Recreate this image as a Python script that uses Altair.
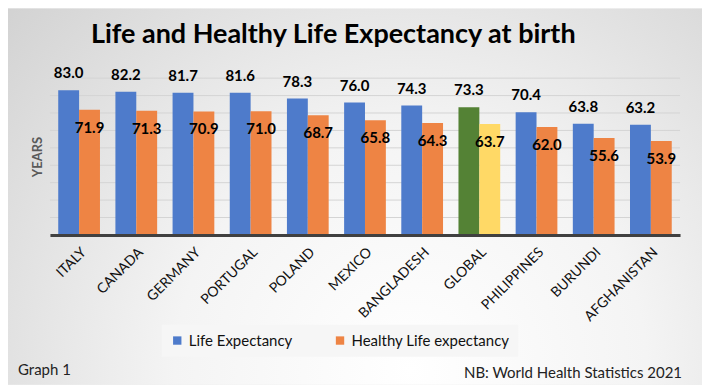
import altair as alt
import pandas as pd

countries = ["ITALY", "CANADA", "GERMANY", "PORTUGAL", "POLAND", "MEXICO",
             "BANGLADESH", "GLOBAL", "PHILIPPINES", "BURUNDI", "AFGHANISTAN"]
life = [83.0, 82.2, 81.7, 81.6, 78.3, 76.0, 74.3, 73.3, 70.4, 63.8, 63.2]
healthy = [71.9, 71.3, 70.9, 71.0, 68.7, 65.8, 64.3, 63.7, 62.0, 55.6, 53.9]
series_names = ["Life Expectancy", "Healthy Life expectancy"]
gridlines = [10, 20, 30, 40, 50, 60, 70, 80, 90]
title_text = ["Life and Healthy Life Expectancy at birth"]
notes_left = ["Graph 1"]
notes_right = ["NB: World Health Statistics 2021"]

rows = []
for c, le, hle in zip(countries, life, healthy):
    g = c == "GLOBAL"
    rows.append({"country": c, "series": "LE", "value": le,
                 "colorkey": "Global LE" if g else series_names[0]})
    rows.append({"country": c, "series": "HLE", "value": hle,
                 "colorkey": "Global HLE" if g else series_names[1]})
df = pd.DataFrame(rows)

FONT = "Lato"
W, H = 631, 157
PL, PT, PR, PB = 42, 70, 22, 150

y_axis = alt.Axis(title="YEARS", labels=False, ticks=False, domain=False, grid=False,
                  titleFont=FONT, titleFontSize=13, titleFontWeight="bold",
                  titleColor="#595959", titlePadding=5, zindex=1)
y_scale = alt.Scale(domain=[0, 90], nice=False)

bg = alt.Chart(pd.DataFrame({"a": [0]})).mark_rect(
    fill={"gradient": "radial", "x1": 0.58, "y1": 0.75, "r1": 0,
          "x2": 0.58, "y2": 0.75, "r2": 0.85,
          "stops": [{"offset": 0, "color": "#ffffff"},
                    {"offset": 0.4, "color": "#f4f4f4"},
                    {"offset": 1, "color": "#cdcdcd"}]}
).encode(x=alt.value(-PL), x2=alt.value(W + PR), y=alt.value(-PT), y2=alt.value(H + PB))

grid = alt.Chart(pd.DataFrame({"value": gridlines})).mark_rule(
    color="#d4d4d4", strokeWidth=1
).encode(y=alt.Y("value:Q", scale=y_scale, axis=y_axis))

base = alt.Chart(df).encode(
    x=alt.X("country:N", sort=countries,
            scale=alt.Scale(paddingInner=0.27, paddingOuter=0.145),
            axis=alt.Axis(title=None, labelAngle=-45, ticks=False, labelPadding=10,
                          domainColor="#404040", domainWidth=3, labelFont=FONT,
                          labelFontSize=14, labelColor="#111111", grid=False, zindex=1)),
    xOffset=alt.XOffset("series:N", sort=["LE", "HLE"],
                        scale=alt.Scale(paddingInner=0, paddingOuter=0)),
    y=alt.Y("value:Q", scale=y_scale, axis=y_axis),
)

bars = base.mark_bar().encode(
    color=alt.Color("colorkey:N",
                    scale=alt.Scale(domain=series_names + ["Global LE", "Global HLE"],
                                    range=["#4e7bcb", "#ee8444", "#548235", "#ffd966"]),
                    legend=alt.Legend(title=None, values=series_names, orient="none",
                                      legendX=112, legendY=247, direction="horizontal",
                                      symbolType="square", symbolSize=70,
                                      symbolStrokeWidth=0, labelFont=FONT,
                                      labelFontSize=15, labelColor="#111111",
                                      columnPadding=40, fillColor="#f6f6f6",
                                      padding=8, labelLimit=300))
)

txt_le = base.transform_filter(alt.datum.series == "LE").mark_text(
    baseline="bottom", dy=-9, font=FONT, fontSize=15, fontWeight="bold", color="#000000"
).encode(text=alt.Text("value:Q", format=".1f"))

txt_hle = base.transform_filter(alt.datum.series == "HLE").mark_text(
    baseline="middle", dy=18, font=FONT, fontSize=15, fontWeight="bold", color="#000000"
).encode(text=alt.Text("value:Q", format=".1f"))

title = alt.Chart(pd.DataFrame({"t": title_text})).mark_text(
    align="left", baseline="alphabetic", font=FONT, fontSize=27, fontWeight="bold",
    color="#000000"
).encode(x=alt.value(41), y=alt.value(-35), text="t:N")

note_l = alt.Chart(pd.DataFrame({"t": notes_left})).mark_text(
    align="left", baseline="alphabetic", font=FONT, fontSize=15, color="#222222"
).encode(x=alt.value(-32), y=alt.value(297), text="t:N")

note_r = alt.Chart(pd.DataFrame({"t": notes_right})).mark_text(
    align="right", baseline="alphabetic", font=FONT, fontSize=15, color="#222222"
).encode(x=alt.value(633), y=alt.value(300), text="t:N")

chart = alt.layer(bg, grid, bars, txt_le, txt_hle, title, note_l, note_r).properties(
    width=W, height=H,
    padding={"left": PL, "top": PT, "right": PR, "bottom": PB},
    autosize=alt.AutoSizeParams(type="none"),
    background="white",
).configure_view(stroke=None)

chart.save("out.html", embed_options={"renderer": "svg", "actions": False})
